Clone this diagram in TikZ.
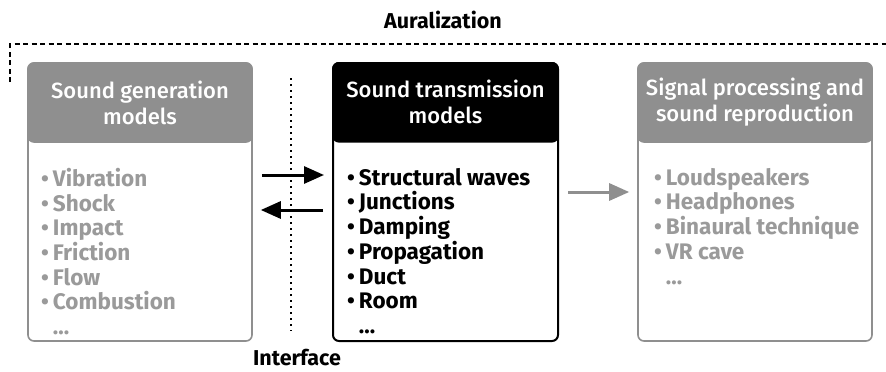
\documentclass[tikz,border=0pt]{standalone}
\usepackage{fontspec}
\setmainfont{Fira Sans}
\newfontfamily\headfont{Fira Sans Medium}
\usetikzlibrary{positioning,arrows.meta}
\definecolor{AuraGray}{HTML}{8F8F8F}
\definecolor{AuraText}{HTML}{9A9A9A}
\definecolor{AuraLine}{HTML}{000000}

\newcommand{\itm}{\textbullet\hspace{4pt}}

\tikzset{
  box/.style={draw,fill=white,rounded corners=6pt,minimum height=278pt,
    minimum width=#1,inner sep=0pt,line width=1.6pt},
  head/.style={draw,fill,rounded corners=6pt,minimum height=79pt,
    minimum width=#1,inner sep=0pt,line width=1.6pt,align=center,
    font=\headfont\fontsize{22}{26}\selectfont},
  items/.style={anchor=north west,inner sep=0pt,align=left,
    font=\bfseries\fontsize{22.5}{24.7}\selectfont},
  arr/.style={-{Triangle[length=20pt,width=17pt]},line width=3pt,shorten >=8pt,shorten <=9pt},
  label/.style={font=\bfseries\fontsize{21.5}{24}\selectfont}
}

\begin{document}
\begin{tikzpicture}[x=1pt,y=-1pt]
  \useasboundingbox (0,0) rectangle (886,372);

  % auralization frame
  \node[label] (aura) at (443,20) {Auralization};
  \draw[line width=1.3pt,dash pattern=on 5pt off 3.5pt] (10,82) -- (10,44) -- (886,44);

  % boxes
  \node[box=224pt,draw=AuraGray] (gen) at (140,202) {};
  \node[box=225pt,draw=AuraLine,line width=2pt] (trans) at (445.5,202) {};
  \node[box=234pt,draw=AuraGray] (rep) at (755,202) {};

  \node[head=224pt,draw=AuraGray,fill=AuraGray,text=white,anchor=north] (genhead)
    at (gen.north) {Sound generation\\models};
  \node[head=225pt,draw=AuraLine,fill=AuraLine,text=white,anchor=north] (transhead)
    at (trans.north) {Sound transmission\\models};
  \node[head=234pt,draw=AuraGray,fill=AuraGray,text=white,anchor=north] (rephead)
    at (rep.north) {Signal processing and\\sound reproduction};

  \node[items,text=AuraText] (genlist) at (41,168)
    {\itm Vibration\\\itm Shock\\\itm Impact\\\itm Friction\\\itm Flow\\\itm Combustion\\\phantom{\itm}...};
  \node[items] (translist) at (347,168)
    {\itm Structural waves\\\itm Junctions\\\itm Damping\\\itm Propagation\\\itm Duct\\\itm Room\\\phantom{\itm}...};
  \node[items,text=AuraText] (replist) at (654,168)
    {\itm Loudspeakers\\\itm Headphones\\\itm Binaural technique\\\itm VR cave\\\phantom{\itm}...};

  % interface
  \draw[line width=1.5pt,dash pattern=on 2pt off 4pt] (291,78) coordinate (ifctop) -- (291,331) coordinate (ifcbot);
  \node[label] (ifc) at (297,358) {Interface};

  % connectors
  \draw[arr] ([yshift=27pt]gen.east) -- ([yshift=27pt]trans.west);
  \draw[arr] ([yshift=-8pt]trans.west) -- ([yshift=-8pt]gen.east);
  \draw[arr,draw=AuraGray,fill=AuraGray] ([yshift=10pt]trans.east) -- ([yshift=10pt]rep.west);
\end{tikzpicture}
\end{document}
